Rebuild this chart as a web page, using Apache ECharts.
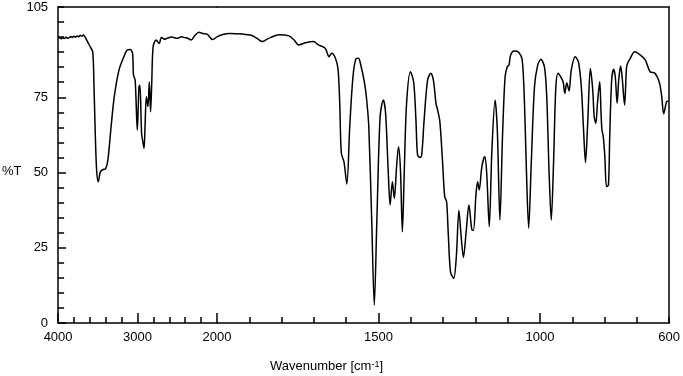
<!DOCTYPE html>
<html>
<head>
<meta charset="utf-8">
<script src="https://cdn.jsdelivr.net/npm/echarts@6/dist/echarts.min.js"></script>
<style>
html, body { margin: 0; padding: 0; background: #fff; }
#chart { width: 683px; height: 376px; }
</style>
</head>
<body>
<div id="chart"></div>
<script>
// IR spectrum, wavenumber in cm-1 (descending) and %T
const wavenumbers = [
  4000, 3980, 3960, 3940, 3920, 3900, 3880, 3860, 3840, 3820, 3800, 3780, 3760, 3740, 3720, 3700,
  3680, 3660, 3640, 3620, 3596, 3564, 3548, 3531, 3515, 3495, 3467, 3434, 3402, 3373, 3333, 3293,
  3233, 3172, 3131, 3091, 3063, 3051, 3030, 3003, 2982, 2970, 2949, 2930, 2918, 2906, 2889, 2869,
  2852, 2836, 2821, 2804, 2767, 2727, 2700, 2660, 2630, 2570, 2500, 2449, 2400, 2367, 2327, 2279,
  2227, 2180, 2125, 2057, 2000,
  1985, 1960, 1920, 1894, 1875, 1859, 1845, 1833, 1808, 1777, 1762, 1747, 1726, 1701, 1686, 1665,
  1653, 1645, 1633, 1625, 1620, 1615, 1607, 1598, 1589, 1579, 1569, 1562, 1556, 1543, 1536, 1530,
  1521, 1513, 1505, 1495, 1485, 1478, 1470, 1464, 1457, 1451, 1444, 1438, 1432, 1426, 1420, 1413,
  1401, 1391, 1384, 1379, 1371, 1366, 1359, 1348, 1338, 1330, 1322, 1317, 1310, 1302, 1295, 1289,
  1284, 1277, 1267, 1259, 1251, 1244, 1237, 1228, 1220, 1211, 1206, 1198, 1193, 1188, 1180, 1171,
  1165, 1157, 1149, 1139, 1132, 1124, 1116, 1108, 1101, 1096, 1091, 1081, 1066, 1055, 1048, 1042,
  1035, 1027, 1017, 1007, 997, 986, 979, 972, 965, 958, 951, 944, 933, 928, 923, 917,
  910, 903, 891, 881, 872, 865, 859, 852, 844, 837, 832, 827, 822, 815, 811, 808,
  804, 799, 794, 788, 784, 778, 772, 767, 761, 756, 750, 745, 738, 732, 728, 720,
  707, 689, 674, 659, 644, 630, 623, 617, 608, 602
];
const transmittance = [
  94.6, 94.9, 94.4, 94.8, 94.5, 95.0, 94.6, 94.8, 95.2, 94.9, 95.3, 95.0, 95.4, 95.1, 95.6, 95.3,
  95.7, 95.0, 94.0, 93.0, 91.8, 90.1, 78.5, 61.9, 50.8, 46.9, 50.3, 51.0, 51.2, 54.2, 65.2, 75.2,
  84.1, 88.5, 90.7, 90.9, 89.6, 82.4, 80.7, 64.1, 78.5, 79.0, 63.0, 59.8, 58.0, 65.0, 75.2, 71.9,
  80.2, 70.2, 80.0, 91.8, 94.0, 92.9, 94.9, 94.3, 94.6, 95.0, 94.6, 95.1, 94.8, 94.6, 94.0, 95.5,
  96.6, 96.2, 96.0, 94.2, 95.1,
  95.8, 96.2, 96.0, 95.6, 94.5, 93.5, 94.3, 94.9, 95.8, 95.4, 94.1, 92.4, 93.1, 93.5, 92.4, 91.3,
  88.5, 89.6, 87.9, 84.1, 73.0, 56.4, 53.6, 46.2, 65.2, 81.8, 87.9, 88.0, 86.3, 79.6, 73.5, 65.2,
  34.2, 6.0, 34.2, 68.5, 74.1, 69.7, 50.8, 39.2, 46.9, 41.4, 51.9, 58.6, 51.0, 30.3, 51.0, 73.0,
  83.5, 80.0, 67.4, 55.8, 55.0, 56.0, 67.0, 80.7, 83.0, 80.7, 73.0, 70.8, 67.0, 54.2, 42.0, 40.3,
  29.8, 17.0, 14.8, 22.0, 37.5, 28.7, 21.8, 31.0, 39.2, 31.0, 30.8, 43.0, 46.9, 44.2, 51.9, 55.3,
  50.0, 32.0, 57.0, 74.1, 64.0, 34.2, 62.0, 81.8, 85.2, 85.7, 89.0, 90.4, 90.0, 87.4, 73.1, 50.8,
  31.5, 53.0, 78.5, 85.7, 87.6, 85.0, 75.2, 50.8, 34.2, 53.0, 78.0, 83.0, 81.3, 80.0, 76.3, 79.8,
  77.1, 84.1, 88.5, 86.8, 78.5, 64.1, 53.3, 67.0, 84.6, 78.0, 68.5, 66.3, 73.0, 80.2, 70.0, 64.1,
  62.0, 55.0, 45.3, 45.8, 62.0, 80.7, 84.3, 82.0, 73.0, 81.0, 85.4, 81.0, 72.4, 85.0, 86.5, 88.0,
  90.1, 89.0, 87.4, 83.5, 83.0, 79.8, 75.2, 69.5, 73.5, 73.8
];

// axis ticks / labels
const highLabels = [4000, 3000];
const highMajorTicks = [2000, 3000, 4000];
const lowLabels = [2000, 1500, 1000, 600];
const lowMajorTicks = [1000, 1500, 2000];
const yLabels = [0, 25, 50, 75, 105];
const yMajorTicks = [0, 25, 50, 75];

// the x scale changes at 2000 cm-1, so the spectrum is split over two grids
const points = wavenumbers.map((w, i) => [w, transmittance[i]]);
const highPart = points.filter(p => p[0] >= 2000);
const lowPart = points.filter(p => p[0] <= 2000);

const black = '#000';
const font = { fontFamily: 'Liberation Sans', fontSize: 13, color: black };
const line = { color: black, width: 1.5 };
const plain = v => String(v);

const xBase = (grid, min, max) => ({
  type: 'value', gridIndex: grid, min: min, max: max, inverse: true,
  splitLine: { show: false }
});

const chart = echarts.init(document.getElementById('chart'));
chart.setOption({
  animation: false,
  backgroundColor: '#fff',
  title: {
    text: 'Wavenumber [cm{sup|-1}]',
    left: 270, top: 360, padding: 0,
    textStyle: {
      fontFamily: 'Liberation Sans', fontSize: 13, fontWeight: 'normal', color: black,
      rich: { sup: { fontFamily: 'Liberation Sans', fontSize: 9, color: black, verticalAlign: 'top' } }
    }
  },
  grid: [
    { left: 52, top: 7, width: 165, bottom: 53 },
    { left: 217, top: 7, right: 7, bottom: 53 }
  ],
  xAxis: [
    Object.assign(xBase(0, 2000, 4000), {
      position: 'bottom', interval: 200,
      axisLine: { lineStyle: line },
      axisTick: { inside: true, length: 6, lineStyle: line },
      axisLabel: { show: false }
    }),
    Object.assign(xBase(0, 2000, 4000), {
      position: 'bottom',
      axisLine: { show: false },
      axisTick: { inside: true, length: 10, customValues: highMajorTicks, lineStyle: line },
      axisLabel: Object.assign({ customValues: highLabels, margin: 8, formatter: plain }, font)
    }),
    Object.assign(xBase(0, 2000, 4000), {
      position: 'top',
      axisLine: { lineStyle: line },
      axisTick: { show: false },
      axisLabel: { show: false }
    }),
    Object.assign(xBase(1, 600, 2000), {
      position: 'bottom', interval: 100,
      axisLine: { lineStyle: line },
      axisTick: { inside: true, length: 6, lineStyle: line },
      axisLabel: { show: false }
    }),
    Object.assign(xBase(1, 600, 2000), {
      position: 'bottom',
      axisLine: { show: false },
      axisTick: { inside: true, length: 10, customValues: lowMajorTicks, lineStyle: line },
      axisLabel: Object.assign({ customValues: lowLabels, margin: 8, formatter: plain }, font)
    }),
    Object.assign(xBase(1, 600, 2000), {
      position: 'top',
      axisLine: { lineStyle: line },
      axisTick: { show: false },
      axisLabel: { show: false }
    })
  ],
  yAxis: [
    {
      type: 'value', gridIndex: 0, min: 0, max: 105, interval: 5, position: 'left',
      axisLine: { show: true, lineStyle: line },
      axisTick: { inside: true, length: 6, lineStyle: line },
      axisLabel: { show: false },
      splitLine: { show: false }
    },
    {
      type: 'value', gridIndex: 0, min: 0, max: 105, position: 'left',
      axisLine: { show: false },
      axisTick: { inside: true, length: 8, customValues: yMajorTicks, lineStyle: line },
      axisLabel: Object.assign({ customValues: yLabels, margin: 10, formatter: plain }, font),
      splitLine: { show: false },
      name: '%T', nameLocation: 'middle', nameRotate: 0, nameGap: 34,
      nameTextStyle: Object.assign({ verticalAlign: 'top' }, font)
    },
    {
      type: 'value', gridIndex: 1, min: 0, max: 105, position: 'right',
      axisLine: { show: true, lineStyle: line },
      axisTick: { show: false },
      axisLabel: { show: false },
      splitLine: { show: false }
    }
  ],
  series: [
    {
      type: 'line', xAxisIndex: 0, yAxisIndex: 0, data: highPart,
      showSymbol: false, smooth: 0.3, lineStyle: line
    },
    {
      type: 'line', xAxisIndex: 3, yAxisIndex: 2, data: lowPart,
      showSymbol: false, smooth: 0.3, lineStyle: line
    }
  ]
});
</script>
</body>
</html>
